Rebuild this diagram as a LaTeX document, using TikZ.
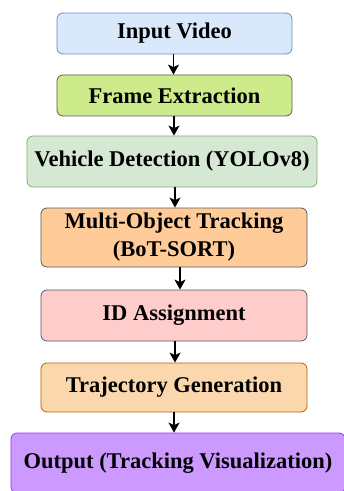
\documentclass[tikz,border=0pt]{standalone}
\usepackage{fontspec}
\setmainfont{Liberation Serif}
\usepackage{xcolor}
\usetikzlibrary{arrows.meta}
\definecolor{ivfill}{HTML}{DAE8FC}
\definecolor{ivdraw}{HTML}{6C8EBF}
\definecolor{fefill}{HTML}{CDEB8B}
\definecolor{vdfill}{HTML}{D5E8D4}
\definecolor{vddraw}{HTML}{82B366}
\definecolor{mtfill}{HTML}{FFCC99}
\definecolor{idfill}{HTML}{FFCCCC}
\definecolor{tgfill}{HTML}{FAD7AC}
\definecolor{tgdraw}{HTML}{B46504}
\definecolor{oufill}{HTML}{CC99FF}
\definecolor{oudraw}{HTML}{9933FF}
\definecolor{grdraw}{HTML}{5A5C60}

\begin{document}
\begin{tikzpicture}[x=1bp,y=-1bp,
    box/.style={draw,rounded corners=6bp,line width=.8bp,align=center,
      inner sep=0pt,font=\fontsize{22.5bp}{28bp}\selectfont\bfseries},
    >={Stealth[length=10bp,width=11bp,inset=2.5bp]}]
  \useasboundingbox (0,0) rectangle (343,491);
  \path (174.5,33.5)
    node (iv) [box,fill=ivfill,draw=ivdraw,minimum width=235bp,minimum height=41bp]
      {Input Video} (174.5,95.5)
    node (fe) [box,fill=fefill,draw=grdraw,minimum width=235bp,minimum height=41bp]
      {Frame Extraction} (172,161.5)
    node (vd) [box,fill=vdfill,draw=vddraw,minimum width=290bp,minimum height=51bp]
      {Vehicle Detection (YOLOv8)} (174,237.5)
    node (mt) [box,fill=mtfill,draw=grdraw,minimum width=266bp,minimum height=59bp]
      {Multi-Object Tracking\\(BoT-SORT)} (174,315.5)
    node (ia) [box,fill=idfill,draw=grdraw,minimum width=266bp,minimum height=51bp]
      {ID Assignment} (174,387.5)
    node (tg) [box,fill=tgfill,draw=tgdraw,minimum width=266bp,minimum height=49bp]
      {Trajectory Generation} (178,463)
    node (ou) [box,fill=oufill,draw=oudraw,minimum width=334bp,minimum height=60bp]
      {Output (Tracking Visualization)};
  \draw[->,line width=1.4bp] ([xshift=-1bp]iv.south) -- ([xshift=-1bp]iv.south |- fe.north);
  \draw[->,line width=1.4bp] ([xshift=-.5bp]fe.south) -- ([xshift=-.5bp]fe.south |- vd.north);
  \draw[->,line width=1.4bp] ([xshift=3bp]vd.south) -- ([xshift=3bp]vd.south |- mt.north);
  \draw[->,line width=1.4bp] ([xshift=6bp]mt.south) -- ([xshift=6bp]mt.south |- ia.north);
  \draw[->,line width=1.4bp] ([xshift=1bp]ia.south) -- ([xshift=1bp]ia.south |- tg.north);
  \draw[->,line width=1.4bp] (tg.south) -- (tg.south |- ou.north);
\end{tikzpicture}
\end{document}
